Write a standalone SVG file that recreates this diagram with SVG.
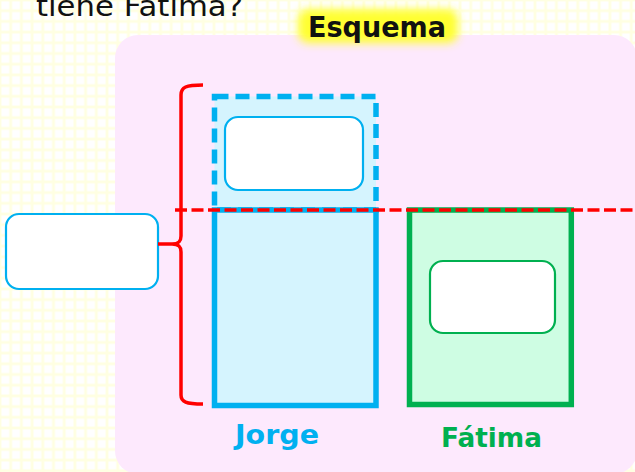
<svg xmlns="http://www.w3.org/2000/svg" width="635" height="472" viewBox="0 0 635 472">
<style>
.inner{fill:#FFFFFF;stroke-width:2.2}
.lbl{font-family:"Century Gothic","URW Gothic","DejaVu Sans","Liberation Sans",sans-serif;font-weight:bold}
</style>
<defs>
<pattern id="grid" width="10.7" height="10.7" patternUnits="userSpaceOnUse">
<rect width="10.7" height="10.7" fill="#FFFFE2"/>
<rect x="1.4" y="1.4" width="7.9" height="7.9" fill="#FFFFFF"/>
</pattern>
<filter id="glow" x="-30%" y="-60%" width="160%" height="220%">
<feGaussianBlur stdDeviation="4"/>
</filter>
</defs>
<rect width="635" height="472" fill="url(#grid)"/>
<text x="36" y="16" font-family="DejaVu Sans,sans-serif" font-size="28" fill="#111111" textLength="207" lengthAdjust="spacingAndGlyphs">tiene Fátima?</text>
<rect x="115" y="35" width="522" height="439" rx="23" fill="#FDE9FD"/>
<g id="title">
<rect x="298" y="9" width="160" height="34" rx="10" fill="#FFFF33" filter="url(#glow)"/>
<text x="308" y="37" class="lbl" font-family="Liberation Sans,sans-serif" font-size="28" fill="#111111" textLength="138" lengthAdjust="spacingAndGlyphs">Esquema</text>
</g>
<g id="jorge-extra">
<rect x="214.5" y="96.5" width="161.5" height="113.5" fill="#D5F4FE" stroke="#00B0F0" stroke-width="5.5" stroke-dasharray="14 7"/>
<rect x="225" y="117" width="138" height="73" rx="13" class="inner" stroke="#00B0F0"/>
</g>
<g id="jorge">
<rect x="214.5" y="210" width="161.5" height="195.5" fill="#D5F4FE" stroke="#00B0F0" stroke-width="5.5"/>
<text x="277" y="444" class="lbl" font-size="27" fill="#00B0F0" text-anchor="middle" textLength="84" lengthAdjust="spacingAndGlyphs">Jorge</text>
</g>
<g id="fatima">
<rect x="409.5" y="210" width="161.8" height="194.5" fill="#CEFDE3" stroke="#00B050" stroke-width="5.5"/>
<rect x="430" y="261" width="125" height="72" rx="13" class="inner" stroke="#00B050"/>
<text x="491.5" y="447" class="lbl" font-size="27" fill="#00B050" text-anchor="middle" textLength="101" lengthAdjust="spacingAndGlyphs">Fátima</text>
</g>
<g id="total">
<rect x="6" y="214" width="152" height="75" rx="13" class="inner" stroke="#00B0F0"/>
</g>
<g id="connectors" fill="none" stroke="#FF0000" stroke-width="3.5">
<path d="M203,85 C186,85 181,87 181,95 L181,236 C181,241 179,244 172,244 L158,244 M172,244 C179,244 181,247 181,252 L181,395 C181,402 186,404 203,404"/>
<line x1="175" y1="210" x2="635" y2="210" stroke-dasharray="12 4.5"/>
</g>
</svg>
